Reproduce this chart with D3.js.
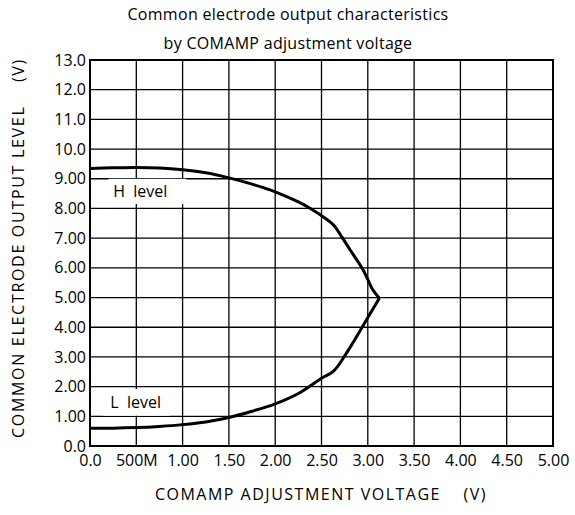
<!DOCTYPE html>
<html>
<head>
<meta charset="utf-8">
<script src="https://cdn.jsdelivr.net/npm/d3@7"></script>
<style>
  body { margin: 0; background: #fff; }
  svg text { font-family: "Open Sans", "DejaVu Sans", sans-serif; fill: #000; white-space: pre; }
</style>
</head>
<body>
<svg id="chart" width="575" height="515"></svg>
<script>
// chart values
const xTicks = [0, 0.5, 1, 1.5, 2, 2.5, 3, 3.5, 4, 4.5, 5];
const xTickLabels = ['0.0', '500M', '1.00', '1.50', '2.00', '2.50', '3.00', '3.50', '4.00', '4.50', '5.00'];
const yTicks = [0, 1, 2, 3, 4, 5, 6, 7, 8, 9, 10, 11, 12, 13];
const yTickLabels = ['0.0', '1.00', '2.00', '3.00', '4.00', '5.00', '6.00', '7.00', '8.00', '9.00', '10.0', '11.0', '12.0', '13.0'];

const hLevelX = [0, 0.25, 0.5, 0.75, 1.0, 1.25, 1.5, 1.75, 2.0, 2.25, 2.38, 2.54, 2.63, 2.74, 2.81, 2.95, 3.05, 3.125];
const hLevelY = [9.35, 9.37, 9.38, 9.36, 9.3, 9.2, 9.03, 8.82, 8.56, 8.22, 8.0, 7.67, 7.44, 6.94, 6.6, 5.93, 5.28, 4.98];
const lLevelX = [0, 0.25, 0.5, 0.75, 1.0, 1.25, 1.5, 1.75, 2.0, 2.25, 2.5, 2.63, 2.79, 2.92, 3.06, 3.125];
const lLevelY = [0.6, 0.6, 0.62, 0.66, 0.72, 0.81, 0.96, 1.17, 1.42, 1.77, 2.28, 2.52, 3.23, 3.9, 4.64, 4.98];

const titleLines = ['Common electrode output characteristics', 'by COMAMP adjustment voltage'];
const xTitle = 'COMAMP ADJUSTMENT VOLTAGE    (V)';
const yTitle = 'COMMON ELECTRODE OUTPUT LEVEL    (V)';

const svg = d3.select('#chart');
const margin = { left: 90, right: 22, top: 60, bottom: 69 };
const width = 575 - margin.left - margin.right;
const height = 515 - margin.top - margin.bottom;

const x = d3.scaleLinear().domain([0, 5]).range([margin.left, margin.left + width]);
const y = d3.scaleLinear().domain([0, 13]).range([margin.top + height, margin.top]);

// title
svg.selectAll('.title').data(titleLines).enter().append('text')
    .attr('class', 'title')
    .attr('x', 288).attr('y', (d, i) => 20 + i * 29)
    .attr('text-anchor', 'middle')
    .style('font-size', '16px')
    .style('letter-spacing', '0.3px')
    .text(d => d);

// grid
const grid = svg.append('g');
grid.selectAll('.vg').data(xTicks).enter().append('line')
    .attr('x1', d => x(d)).attr('x2', d => x(d))
    .attr('y1', y(0)).attr('y2', y(13))
    .attr('stroke', '#000').attr('stroke-width', 1.3);
grid.selectAll('.hg').data(yTicks).enter().append('line')
    .attr('x1', x(0)).attr('x2', x(5))
    .attr('y1', d => y(d)).attr('y2', d => y(d))
    .attr('stroke', '#000').attr('stroke-width', 1.3);

// axes (labels only, gridlines drawn above)
const xAxis = d3.axisBottom(x).tickValues(xTicks)
    .tickFormat((d, i) => xTickLabels[i]).tickSize(0).tickPadding(9);
svg.append('g').attr('transform', `translate(0,${y(0)})`).call(xAxis)
    .call(g => g.select('.domain').remove())
    .selectAll('text').style('font-size', '16px');

const yAxis = d3.axisLeft(y).tickValues(yTicks)
    .tickFormat((d, i) => yTickLabels[i]).tickSize(0).tickPadding(4);
svg.append('g').attr('transform', `translate(${x(0)},0)`).call(yAxis)
    .call(g => g.select('.domain').remove())
    .selectAll('text').style('font-size', '16px');

// border
svg.append('rect')
    .attr('x', x(0)).attr('y', y(13))
    .attr('width', x(5) - x(0)).attr('height', y(0) - y(13))
    .attr('fill', 'none').attr('stroke', '#000').attr('stroke-width', 2);

// label boxes covering the grid
const labels = [
    { text: 'H  level', x0: 0.2, x1: 1.04, y0: 9.0, y1: 8.15, tx: 0.25 },
    { text: 'L  level', x0: 0.14, x1: 0.86, y0: 1.92, y1: 1.02, tx: 0.22 }
];
labels.forEach(l => {
    svg.append('rect')
        .attr('x', x(l.x0)).attr('y', y(l.y0))
        .attr('width', x(l.x1) - x(l.x0)).attr('height', y(l.y1) - y(l.y0))
        .attr('fill', '#fff');
    svg.append('text')
        .attr('x', x(l.tx))
        .attr('y', (y(l.y0) + y(l.y1)) / 2 + 6)
        .style('font-size', '16px')
        .text(l.text);
});

// curves
const line = d3.line().x(d => x(d[0])).y(d => y(d[1])).curve(d3.curveCatmullRom.alpha(0.5));
svg.append('path')
    .datum(hLevelX.map((v, i) => [v, hLevelY[i]]))
    .attr('d', line).attr('fill', 'none').attr('stroke', '#000').attr('stroke-width', 3)
    .attr('stroke-linejoin', 'round');
svg.append('path')
    .datum(lLevelX.map((v, i) => [v, lLevelY[i]]))
    .attr('d', line).attr('fill', 'none').attr('stroke', '#000').attr('stroke-width', 3)
    .attr('stroke-linejoin', 'round');

// axis titles
svg.append('text')
    .attr('x', 321).attr('y', 500)
    .attr('text-anchor', 'middle')
    .style('font-size', '16px')
    .style('letter-spacing', '1.5px')
    .text(xTitle);
svg.append('text')
    .attr('transform', 'translate(24,248) rotate(-90)')
    .attr('text-anchor', 'middle')
    .style('font-size', '16px')
    .style('letter-spacing', '1.7px')
    .text(yTitle);
</script>
</body>
</html>
